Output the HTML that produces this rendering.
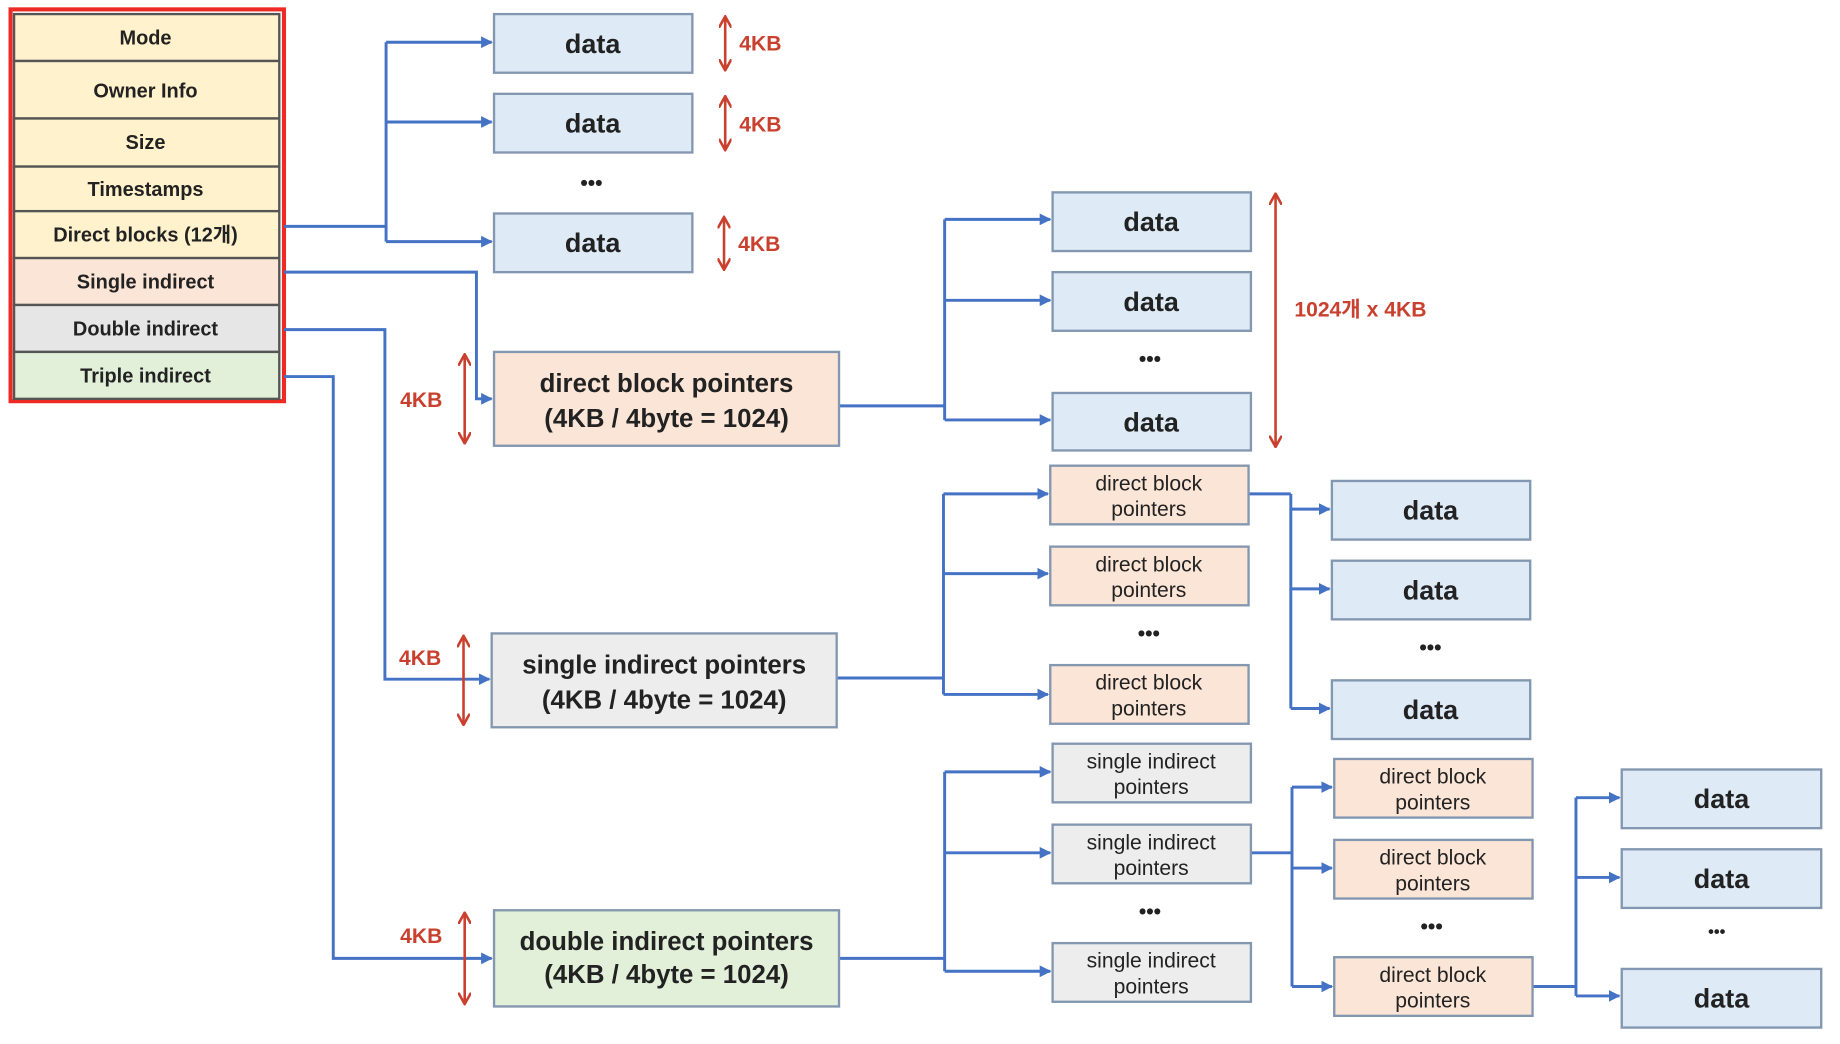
<!DOCTYPE html>
<html><head><meta charset="utf-8"><style>
html,body{margin:0;padding:0;background:#fff;}
svg{display:block;}
text{font-family:"Liberation Sans","Noto Sans CJK KR",sans-serif;fill:#222;}
</style></head><body>
<svg width="1840" height="1044" viewBox="0 0 1568 890" preserveAspectRatio="none" xmlns="http://www.w3.org/2000/svg">
<defs>
<marker id="a" viewBox="0 0 10 10" refX="9" refY="5" markerWidth="4" markerHeight="4" orient="auto"><path d="M0,0 L10,5 L0,10 z" fill="#4472c4"/></marker>
<marker id="r" viewBox="0 0 10 10" refX="9" refY="5" markerWidth="5" markerHeight="5" orient="auto-start-reverse"><path d="M0,0 L9,5 L0,10" fill="none" stroke="#c9402f" stroke-width="2"/></marker>
</defs>
<rect width="1568" height="890" fill="#fff"/>
<rect x="9" y="8" width="233" height="334" fill="none" stroke="#ee2a24" stroke-width="3.5"/>
<g stroke="#555" stroke-width="2">
<rect x="12" y="12" width="226" height="40" fill="#fff2cc"/>
<rect x="12" y="52" width="226" height="49" fill="#fff2cc"/>
<rect x="12" y="101" width="226" height="41" fill="#fff2cc"/>
<rect x="12" y="142" width="226" height="38" fill="#fff2cc"/>
<rect x="12" y="180" width="226" height="40" fill="#fff2cc"/>
<rect x="12" y="220" width="226" height="40" fill="#fbe5d6"/>
<rect x="12" y="260" width="226" height="40" fill="#e7e6e6"/>
<rect x="12" y="300" width="226" height="40" fill="#e2f0d9"/>
</g>
<g font-size="17" font-weight="bold" text-anchor="middle">
<text x="124" y="38">Mode</text>
<text x="124" y="83">Owner Info</text>
<text x="124" y="127">Size</text>
<text x="124" y="167">Timestamps</text>
<text x="124" y="206">Direct blocks (12개)</text>
<text x="124" y="246">Single indirect</text>
<text x="124" y="286">Double indirect</text>
<text x="124" y="326">Triple indirect</text>
</g>
<g fill="none" stroke="#4472c4" stroke-width="2.5">
<path d="M242,193 H329"/><path d="M329,36 V206"/>
<path d="M329,36 H419" marker-end="url(#a)"/><path d="M329,104 H419" marker-end="url(#a)"/><path d="M329,206 H419" marker-end="url(#a)"/>
<path d="M242,232 H406 V340 H419" marker-end="url(#a)"/>
<path d="M715,346 H805"/><path d="M805,187 V358"/>
<path d="M805,187 H895" marker-end="url(#a)"/><path d="M805,256 H895" marker-end="url(#a)"/><path d="M805,358 H895" marker-end="url(#a)"/>
<path d="M242,281 H328 V579 H417" marker-end="url(#a)"/>
<path d="M713,578 H804"/><path d="M804,421 V592"/>
<path d="M804,421 H893" marker-end="url(#a)"/><path d="M804,489 H893" marker-end="url(#a)"/><path d="M804,592 H893" marker-end="url(#a)"/>
<path d="M1064,421 H1100"/><path d="M1100,421 V604"/>
<path d="M1100,434 H1133" marker-end="url(#a)"/><path d="M1100,502 H1133" marker-end="url(#a)"/><path d="M1100,604 H1133" marker-end="url(#a)"/>
<path d="M242,321 H284 V817 H419" marker-end="url(#a)"/>
<path d="M715,817 H805"/><path d="M805,658 V828"/>
<path d="M805,658 H895" marker-end="url(#a)"/><path d="M805,727 H895" marker-end="url(#a)"/><path d="M805,828 H895" marker-end="url(#a)"/>
<path d="M1066,727 H1101"/><path d="M1101,671 V841"/>
<path d="M1101,671 H1135" marker-end="url(#a)"/><path d="M1101,740 H1135" marker-end="url(#a)"/><path d="M1101,841 H1135" marker-end="url(#a)"/>
<path d="M1306,841 H1343"/><path d="M1343,680 V849"/>
<path d="M1343,680 H1380" marker-end="url(#a)"/><path d="M1343,748 H1380" marker-end="url(#a)"/><path d="M1343,849 H1380" marker-end="url(#a)"/>
</g>
<g fill="#deebf7" stroke="#8497b0" stroke-width="2">
<rect x="421" y="12" width="169" height="50"/><rect x="421" y="80" width="169" height="50"/><rect x="421" y="182" width="169" height="50"/>
<rect x="897" y="164" width="169" height="50"/><rect x="897" y="232" width="169" height="50"/><rect x="897" y="335" width="169" height="49"/>
<rect x="1135" y="410" width="169" height="50"/><rect x="1135" y="478" width="169" height="50"/><rect x="1135" y="580" width="169" height="50"/>
<rect x="1382" y="656" width="170" height="50"/><rect x="1382" y="724" width="170" height="50"/><rect x="1382" y="826" width="170" height="50"/>
</g>
<g font-size="23" font-weight="bold" text-anchor="middle">
<text x="505" y="45">data</text><text x="505" y="113">data</text><text x="505" y="215">data</text>
<text x="981" y="197">data</text><text x="981" y="265">data</text><text x="981" y="368">data</text>
<text x="1219" y="443">data</text><text x="1219" y="511">data</text><text x="1219" y="613">data</text>
<text x="1467" y="689">data</text><text x="1467" y="757">data</text><text x="1467" y="859">data</text>
</g>
<g stroke="#8497b0" stroke-width="2">
<rect x="421" y="300" width="294" height="80" fill="#fbe5d6"/>
<rect x="419" y="540" width="294" height="80" fill="#ededed"/>
<rect x="421" y="776" width="294" height="82" fill="#e2f0d9"/>
</g>
<g font-size="22" font-weight="bold" text-anchor="middle">
<text x="568" y="334">direct block pointers</text><text x="568" y="364">(4KB / 4byte = 1024)</text>
<text x="566" y="574">single indirect pointers</text><text x="566" y="604">(4KB / 4byte = 1024)</text>
<text x="568" y="810">double indirect pointers</text><text x="568" y="838">(4KB / 4byte = 1024)</text>
</g>
<g stroke="#8497b0" stroke-width="2">
<rect x="895" y="397" width="169" height="50" fill="#fbe5d6"/><rect x="895" y="466" width="169" height="50" fill="#fbe5d6"/><rect x="895" y="567" width="169" height="50" fill="#fbe5d6"/>
<rect x="897" y="634" width="169" height="50" fill="#ededed"/><rect x="897" y="703" width="169" height="50" fill="#ededed"/><rect x="897" y="804" width="169" height="50" fill="#ededed"/>
<rect x="1137" y="647" width="169" height="50" fill="#fbe5d6"/><rect x="1137" y="716" width="169" height="50" fill="#fbe5d6"/><rect x="1137" y="816" width="169" height="50" fill="#fbe5d6"/>
</g>
<g font-size="18" text-anchor="middle" style="fill:#333">
<text x="979" y="418">direct block</text><text x="979" y="440">pointers</text>
<text x="979" y="487">direct block</text><text x="979" y="509">pointers</text>
<text x="979" y="588">direct block</text><text x="979" y="610">pointers</text>
<text x="981" y="655">single indirect</text><text x="981" y="677">pointers</text>
<text x="981" y="724">single indirect</text><text x="981" y="746">pointers</text>
<text x="981" y="825">single indirect</text><text x="981" y="847">pointers</text>
<text x="1221" y="668">direct block</text><text x="1221" y="690">pointers</text>
<text x="1221" y="737">direct block</text><text x="1221" y="759">pointers</text>
<text x="1221" y="837">direct block</text><text x="1221" y="859">pointers</text>
</g>
<g font-size="18" font-weight="bold" text-anchor="middle">
<text x="504" y="162">•••</text><text x="980" y="312">•••</text><text x="979" y="546">•••</text>
<text x="1219" y="558">•••</text><text x="980" y="783">•••</text><text x="1220" y="796">•••</text>
<text x="1463" y="799" font-size="14">•••</text>
</g>
<g stroke="#c9402f" stroke-width="2.2" fill="none">
<path d="M618,14 V60" marker-start="url(#r)" marker-end="url(#r)"/>
<path d="M618,82 V128" marker-start="url(#r)" marker-end="url(#r)"/>
<path d="M617,185 V230" marker-start="url(#r)" marker-end="url(#r)"/>
<path d="M396,302 V378" marker-start="url(#r)" marker-end="url(#r)"/>
<path d="M395,542 V618" marker-start="url(#r)" marker-end="url(#r)"/>
<path d="M396,778 V856" marker-start="url(#r)" marker-end="url(#r)"/>
<path d="M1087,165 V381" marker-start="url(#r)" marker-end="url(#r)"/>
</g>
<g font-size="18" font-weight="bold">
<text x="630" y="43" style="fill:#c9402f">4KB</text>
<text x="630" y="112" style="fill:#c9402f">4KB</text>
<text x="629" y="214" style="fill:#c9402f">4KB</text>
<text x="341" y="347" style="fill:#c9402f">4KB</text>
<text x="340" y="567" style="fill:#c9402f">4KB</text>
<text x="341" y="804" style="fill:#c9402f">4KB</text>
<text x="1103" y="270" style="fill:#c9402f">1024개 x 4KB</text>
</g>
</svg>
</body></html>
